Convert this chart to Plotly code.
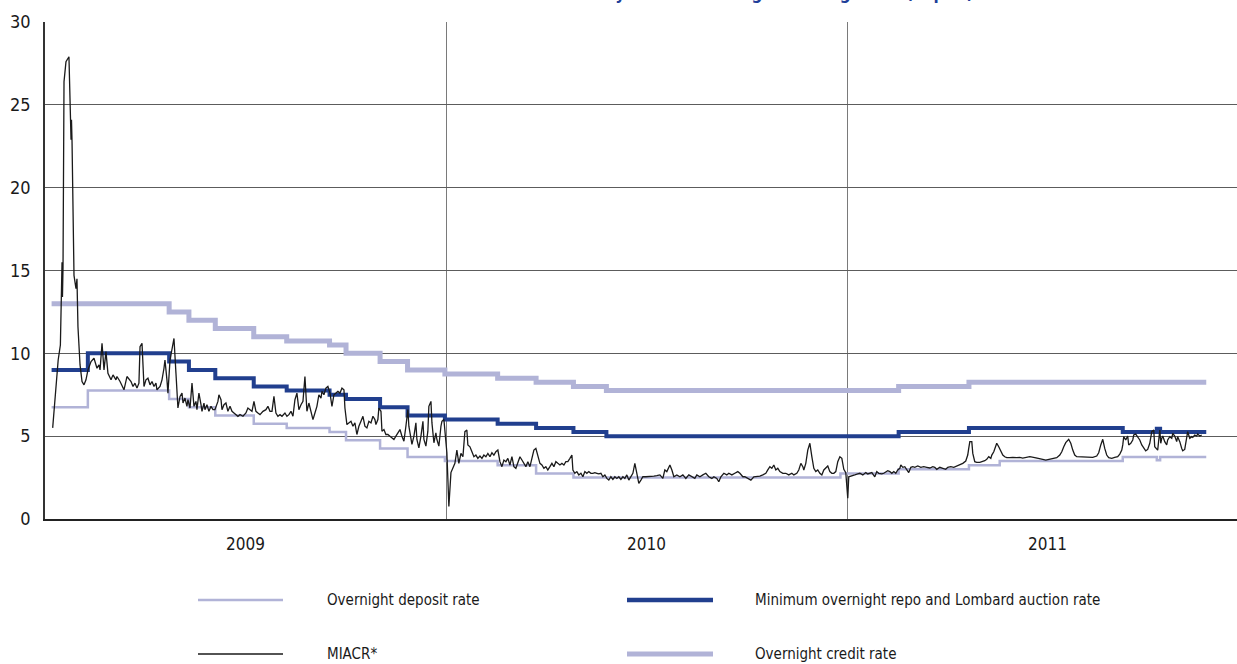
import pandas as pd
import plotly.graph_objects as go

# ---------------- data ----------------
credit_dates = ["2009-01-07", "2009-04-24", "2009-05-12", "2009-06-05", "2009-07-10", "2009-08-09",
                "2009-09-17", "2009-10-02", "2009-11-02", "2009-11-27", "2009-12-31", "2010-02-17",
                "2010-03-24", "2010-04-27", "2010-05-27", "2011-02-17", "2011-04-22", "2011-11-24"]
credit_vals = [13, 12.5, 12, 11.5, 11, 10.75, 10.5, 10, 9.5, 9, 8.75, 8.5, 8.25, 8, 7.75, 8, 8.25, 8.25]

repo_dates = ["2009-01-07", "2009-02-09", "2009-04-24", "2009-05-12", "2009-06-05", "2009-07-10",
              "2009-08-09", "2009-09-17", "2009-10-02", "2009-11-02", "2009-11-27", "2009-12-31",
              "2010-02-17", "2010-03-24", "2010-04-27", "2010-05-27", "2011-02-17", "2011-04-22",
              "2011-09-09", "2011-10-10", "2011-10-13", "2011-11-24"]
repo_vals = [9, 10, 9.5, 9, 8.5, 8, 7.75, 7.5, 7.25, 6.75, 6.25, 6.0, 5.75, 5.5, 5.25, 5.0,
             5.25, 5.5, 5.25, 5.45, 5.25, 5.25]

deposit_dates = ["2009-01-07", "2009-02-09", "2009-04-24", "2009-05-12", "2009-06-05", "2009-07-10",
                 "2009-08-09", "2009-09-17", "2009-10-02", "2009-11-02", "2009-11-27", "2009-12-31",
                 "2010-02-17", "2010-03-24", "2010-04-27", "2010-12-26", "2011-02-17", "2011-04-22",
                 "2011-05-20", "2011-09-09", "2011-10-10", "2011-10-13", "2011-11-24"]
deposit_vals = [6.75, 7.75, 7.25, 6.75, 6.25, 5.75, 5.5, 5.25, 4.75, 4.25, 3.75, 3.5, 3.25, 2.75,
                2.5, 2.75, 3.0, 3.25, 3.5, 3.75, 3.55, 3.75, 3.75]

# MIACR: days since 2009-01-01 and rate, % p.a.
miacr_day = [
    7, 10, 12, 14, 14.6, 15.5, 15.9, 16.4, 17.3, 19.1,
    21.8, 23.7, 24.1, 24.6, 26.4, 28.2, 29.1, 30.0, 31.9, 33.7,
    35.5, 37.3, 39.1, 41.9, 44.6, 47.3, 49.1, 50.1, 51.9, 53.7,
    55.5, 57.3, 60.1, 61.9, 64.6, 65.5, 68.3, 71.9, 74.6, 78.3,
    80.1, 81.9, 83.7, 85.5, 86.5, 88.3, 90.1, 91.9, 93.7, 95.6,
    97.4, 99.2, 101.0, 101.9, 104.7, 106.5, 108.3, 109.2, 111.0, 111.9,
    113.8, 115.6, 117.4, 119.2, 121.0, 122.9, 124.7, 125.6, 127.4, 129.2,
    130.1, 132.0, 133.8, 135.6, 137.4, 138.3, 140.1, 142.0, 142.9, 144.7,
    145.6, 147.4, 149.2, 151.1, 152.9, 154.7, 156.5, 157.4, 158.3, 160.2,
    161.1, 162.9, 164.7, 166.5, 168.4, 170.2, 172.0, 173.8, 175.6, 177.5,
    180.2, 182.9, 184.7, 186.6, 188.4, 190.2, 192.0, 193.8, 195.7, 198.4,
    201.1, 202.9, 204.8, 206.6, 208.4, 210.2, 212.0, 213.9, 215.7, 218.4,
    220.2, 222.0, 223.9, 225.7, 227.5, 229.3, 231.1, 233.0, 234.8, 236.6,
    238.4, 240.2, 242.1, 243.9, 245.7, 247.5, 249.3, 251.2, 252.1, 253.9,
    255.7, 257.5, 259.4, 261.2, 263.0, 264.8, 266.6, 268.5, 270.3, 272.1,
    273.0, 274.8, 276.6, 278.5, 280.3, 282.1, 283.9, 285.7, 287.6, 289.4,
    291.2, 293.0, 294.8, 296.7, 298.5, 300.3, 301.2, 303.0, 303.9, 305.8,
    306.7, 308.5, 310.3, 312.1, 314.0, 315.8, 317.6, 319.4, 321.2, 323.1,
    324.9, 326.7, 328.5, 330.3, 331.2, 333.1, 334.0, 335.8, 337.6, 338.5,
    340.3, 342.2, 344.0, 344.9, 346.7, 348.5, 349.4, 351.3, 352.2, 354.0,
    355.8, 356.7, 358.5, 360.4, 361.3, 363.1, 364.0, 365.8, 366.7, 367.6,
    369.5, 370.4, 373.1, 374.9, 376.7, 378.6, 380.4, 382.2, 384.0, 384.9,
    386.8, 388.6, 390.4, 392.2, 394.0, 395.9, 397.7, 399.5, 401.3, 403.1,
    405.0, 406.8, 408.6, 410.4, 412.2, 414.1, 415.9, 417.7, 419.5, 421.3,
    423.2, 425.0, 426.8, 428.6, 430.4, 432.3, 434.1, 435.9, 437.7, 439.5,
    441.4, 443.2, 445.0, 446.8, 448.6, 450.5, 452.3, 454.1, 455.9, 457.7,
    459.6, 461.4, 463.2, 465.0, 466.8, 468.7, 470.5, 472.3, 474.1, 475.9,
    477.8, 479.6, 480.5, 482.3, 484.1, 485.9, 487.8, 489.6, 491.4, 493.2,
    495.0, 496.9, 498.7, 500.5, 502.3, 504.1, 506.0, 507.8, 509.6, 511.4,
    513.2, 515.1, 516.9, 518.7, 520.5, 522.3, 524.2, 526.0, 527.8, 529.6,
    531.4, 533.3, 535.1, 536.9, 538.7, 540.5, 542.4, 544.2, 546.9, 550.6,
    554.2, 556.9, 559.7, 562.4, 564.2, 566.0, 568.8, 570.6, 572.4, 575.1,
    577.9, 580.6, 583.3, 586.0, 588.8, 591.5, 593.3, 596.1, 598.8, 601.5,
    604.2, 607.0, 608.8, 611.5, 613.3, 615.2, 617.9, 620.6, 622.4, 625.2,
    627.9, 630.6, 632.5, 635.2, 637.0, 639.7, 642.5, 645.2, 647.9, 650.7,
    653.4, 656.1, 657.9, 659.8, 661.6, 663.4, 665.2, 667.0, 668.9, 671.6,
    674.3, 677.0, 679.8, 681.6, 684.3, 686.1, 688.0, 689.8, 690.7, 692.5,
    694.3, 696.2, 698.0, 699.8, 701.6, 703.4, 705.3, 707.1, 708.9, 710.7,
    712.5, 714.4, 716.2, 718.0, 719.8, 721.6, 723.5, 725.3, 727.1, 728.9,
    730.7, 731.6, 734.4, 737.1, 739.8, 741.7, 744.4, 747.1, 748.9, 750.8,
    752.6, 755.3, 757.1, 758.9, 761.7, 763.5, 765.3, 767.1, 769.0, 770.8,
    772.6, 774.4, 776.2, 778.1, 779.0, 780.8, 782.6, 784.4, 786.2, 788.1,
    789.9, 791.7, 794.4, 797.2, 799.9, 802.6, 805.4, 808.1, 809.9, 811.7,
    814.5, 817.2, 819.9, 821.7, 824.5, 827.2, 829.9, 832.7, 835.4, 838.1,
    839.9, 840.8, 841.8, 843.6, 844.5, 846.3, 848.1, 850.9, 853.6, 855.4,
    857.2, 859.0, 860.9, 861.8, 863.6, 865.4, 866.3, 868.1, 870.0, 871.8,
    873.6, 875.4, 878.2, 880.9, 884.5, 887.3, 890.0, 893.6, 896.4, 900.9,
    905.5, 908.2, 910.9, 914.6, 917.3, 920.9, 923.7, 925.5, 927.3, 929.1,
    931.8, 933.7, 935.5, 937.3, 939.1, 941.9, 944.6, 948.2, 951.0, 953.7,
    957.3, 959.1, 961.0, 962.8, 964.6, 966.4, 968.2, 971.0, 973.7, 976.4,
    978.3, 980.1, 981.0, 981.9, 983.7, 985.5, 986.4, 988.3, 990.1, 991.0,
    992.8, 994.6, 996.5, 998.3, 1000.1, 1001.9, 1003.7, 1005.6, 1007.4, 1009.2,
    1010.1, 1012.8, 1014.7, 1015.6, 1016.5, 1017.4, 1019.2, 1021.0, 1021.9, 1023.8,
    1025.6, 1026.5, 1028.3, 1030.1, 1031.0, 1032.9, 1034.7, 1035.6, 1037.4, 1039.2,
    1040.1, 1042.0, 1043.8, 1044.7, 1046.5, 1048.3, 1049.2, 1051.1, 1052.9,
]
miacr_val = [
    5.5, 8.3, 9.6, 10.5, 13.7, 15.5, 13.4, 15.2, 26.4, 27.6,
    27.9, 22.9, 24.1, 22.8, 14.7, 13.9, 14.5, 11.6, 9.3, 8.3,
    8.1, 8.4, 9.0, 9.5, 9.7, 9.1, 9.3, 9.0, 10.6, 9.0,
    10.1, 8.8, 8.4, 8.7, 8.4, 8.6, 8.3, 7.8, 8.6, 8.3,
    8.0, 8.2, 7.9, 8.2, 10.4, 10.6, 8.0, 8.4, 8.5, 8.1,
    8.3, 8.0, 8.2, 7.8, 8.0, 8.4, 9.1, 9.6, 8.4, 7.6,
    9.6, 10.4, 10.9, 8.8, 6.7, 7.4, 7.6, 7.0, 7.3, 6.8,
    7.2, 6.7, 8.2, 6.8, 7.1, 6.6, 7.6, 6.9, 6.5, 7.0,
    6.6, 6.9, 6.5, 6.8, 6.6, 6.6, 6.9, 7.1, 7.5, 7.2,
    6.6, 6.9, 7.0, 6.5, 6.8, 6.5, 6.4, 6.3, 6.2, 6.3,
    6.2, 6.4, 6.7, 6.6, 6.5, 7.1, 6.5, 6.4, 6.3, 6.5,
    6.6, 6.8, 6.5, 6.5, 7.4, 6.4, 6.2, 6.3, 6.2, 6.4,
    6.2, 6.3, 6.5, 6.2, 7.2, 7.6, 6.6, 6.9, 7.1, 8.6,
    6.5, 7.0, 6.4, 6.0, 6.4, 6.8, 7.5, 7.3, 7.7, 7.5,
    7.9, 8.0, 7.6, 6.8, 7.5, 7.6, 7.7, 7.6, 7.9, 7.8,
    6.7, 5.7, 5.8, 5.9, 5.6, 5.8, 5.1, 5.6, 5.9, 6.2,
    5.6, 5.5, 5.9, 5.8, 6.2, 6.0, 5.7, 6.0, 6.7, 6.5,
    5.3, 5.4, 5.1, 5.1, 5.0, 4.9, 4.8, 5.0, 5.2, 5.4,
    5.0, 4.7, 5.6, 6.6, 5.6, 5.0, 4.5, 5.0, 5.8, 4.8,
    4.3, 5.0, 5.9, 4.8, 4.4, 5.3, 6.8, 7.1, 5.8, 4.6,
    5.2, 4.8, 4.4, 5.6, 5.9, 6.0, 5.2, 4.0, 2.4, 0.75,
    2.8, 2.96, 3.36, 4.16, 3.36, 3.96, 3.76, 5.27, 5.37, 4.47,
    4.36, 4.06, 3.76, 3.86, 3.66, 3.80, 3.66, 3.86, 3.76, 3.96,
    3.76, 4.0, 3.86, 4.06, 4.16, 3.46, 3.16, 3.56, 3.46, 3.66,
    3.26, 3.76, 3.16, 3.06, 3.46, 3.76, 3.56, 3.36, 3.16, 3.46,
    3.16, 3.66, 4.16, 4.26, 3.76, 3.36, 3.26, 3.06, 3.16, 2.96,
    3.16, 3.36, 3.16, 3.46, 3.36, 3.26, 3.36, 3.26, 3.46, 3.46,
    3.66, 3.86, 2.96, 2.76, 2.86, 2.66, 2.76, 2.55, 2.86, 2.76,
    2.86, 2.76, 2.76, 2.80, 2.76, 2.72, 2.76, 2.55, 2.66, 2.45,
    2.35, 2.55, 2.39, 2.55, 2.45, 2.55, 2.39, 2.55, 2.45, 2.66,
    2.35, 2.55, 2.76, 3.36, 2.76, 2.15, 2.35, 2.55, 2.55, 2.55,
    2.59, 2.62, 2.66, 2.45, 2.96, 2.86, 3.26, 2.96, 2.55, 2.66,
    2.55, 2.66, 2.45, 2.66, 2.55, 2.45, 2.66, 2.55, 2.66, 2.76,
    2.55, 2.45, 2.55, 2.45, 2.25, 2.55, 2.76, 2.66, 2.76, 2.66,
    2.76, 2.86, 2.76, 2.55, 2.55, 2.45, 2.35, 2.55, 2.55, 2.59,
    2.66, 2.76, 2.96, 3.16, 3.06, 3.26, 2.96, 3.06, 2.86, 2.76,
    2.76, 2.66, 2.76, 2.66, 2.76, 2.96, 3.36, 3.16, 2.96, 3.36,
    4.16, 4.57, 3.76, 3.06, 2.86, 2.96, 2.76, 2.66, 2.96, 3.06,
    3.2, 2.86, 2.76, 2.76, 2.86, 3.46, 3.76, 3.66, 3.0, 2.8,
    1.25, 2.55, 2.59, 2.66, 2.72, 2.76, 2.66, 2.8, 2.72, 2.76,
    2.8, 2.55, 2.86, 2.76, 2.72, 2.76, 2.86, 2.92, 2.86, 2.76,
    2.86, 2.76, 2.96, 3.06, 3.26, 3.12, 3.16, 3.0, 2.8, 3.12,
    3.16, 3.12, 3.2, 3.12, 3.16, 3.12, 3.08, 3.16, 3.12, 3.0,
    3.12, 3.06, 3.0, 3.12, 3.16, 3.12, 3.2, 3.32, 3.36, 3.5,
    3.86, 4.26, 4.67, 4.67, 3.96, 3.46, 3.42, 3.42, 3.46, 3.52,
    3.6, 3.76, 3.66, 3.86, 4.06, 4.4, 4.57, 4.36, 4.06, 3.86,
    3.76, 3.70, 3.70, 3.72, 3.70, 3.72, 3.68, 3.72, 3.76, 3.70,
    3.66, 3.6, 3.56, 3.6, 3.66, 3.70, 3.86, 4.06, 4.36, 4.61,
    4.81, 4.57, 4.16, 3.86, 3.76, 3.76, 3.72, 3.72, 3.76, 3.72,
    3.80, 4.0, 4.47, 4.81, 4.26, 3.86, 3.70, 3.66, 3.72, 3.76,
    3.92, 4.16, 4.47, 4.97, 4.77, 5.01, 4.47, 4.57, 4.77, 5.07,
    5.13, 4.97, 4.77, 4.47, 4.26, 4.12, 4.2, 4.57, 5.27, 5.37,
    4.36, 4.16, 5.37, 4.57, 4.87, 5.01, 4.67, 4.47, 4.77, 4.97,
    4.87, 5.17, 5.01, 4.67, 4.97, 4.67, 4.26, 4.12, 4.2, 4.77,
    5.27, 4.87, 4.97, 4.93, 5.07, 5.01, 5.13, 5.01, 5.07,
]

year_labels = ["2009", "2010", "2011"]
y_ticks = [0, 5, 10, 15, 20, 25, 30]

legend_names = ["Overnight deposit rate", "Minimum overnight repo and Lombard auction rate",
                "MIACR*", "Overnight credit rate"]
title_text = "Bank of Russia interest rates and money market overnight lending rates (% p.a.)"

# ---------------- styling ----------------
W, H = 1237, 664
ML, MR, MT, MB = 45, 0, 22, 145
PW, PH = W - ML - MR, H - MT - MB
FONT = "DejaVu Sans Condensed, Liberation Sans Narrow, Arial Narrow, sans-serif"
LAV = "#b1b3d7"
BLUE = "#213f8e"
BLACK = "#1a1a1a"


def px_x(p):
    return (p - ML) / PW


def px_y(p):
    return (H - MB - p) / PH


base = pd.Timestamp("2009-01-01")
miacr_dates = base + pd.to_timedelta(miacr_day, unit="D")
x_end = base + pd.Timedelta(days=PW / 401 * 365)

fig = go.Figure()
fig.add_trace(go.Scatter(x=credit_dates, y=credit_vals, mode="lines", line_shape="hv",
                         line=dict(color=LAV, width=5), name=legend_names[3], showlegend=False))
fig.add_trace(go.Scatter(x=deposit_dates, y=deposit_vals, mode="lines", line_shape="hv",
                         line=dict(color=LAV, width=2.5), name=legend_names[0], showlegend=False))
fig.add_trace(go.Scatter(x=repo_dates, y=repo_vals, mode="lines", line_shape="hv",
                         line=dict(color=BLUE, width=4), name=legend_names[1], showlegend=False))
fig.add_trace(go.Scatter(x=miacr_dates, y=miacr_val, mode="lines",
                         line=dict(color=BLACK, width=1.3), name=legend_names[2], showlegend=False))

# manual legend
legend_items = [
    (198, 283, 600, LAV, 2.5, 325, legend_names[0]),
    (627, 713, 600, BLUE, 4.5, 753, legend_names[1]),
    (198, 283, 654, BLACK, 1.5, 325, legend_names[2]),
    (627, 713, 654, LAV, 5, 753, legend_names[3]),
]
for x0, x1, yy, col, wd, tx, name in legend_items:
    fig.add_shape(type="line", xref="paper", yref="paper", x0=px_x(x0), x1=px_x(x1),
                  y0=px_y(yy), y1=px_y(yy), line=dict(color=col, width=wd))
    fig.add_annotation(xref="paper", yref="paper", x=px_x(tx), y=px_y(yy), text=name,
                       showarrow=False, xanchor="left", yanchor="middle",
                       font=dict(family=FONT, size=15, color="#1a1a1a"))

fig.add_annotation(xref="paper", yref="paper", x=px_x(975), y=px_y(5), text="<b>" + title_text + "</b>",
                   showarrow=False, xanchor="right", yanchor="bottom",
                   font=dict(family=FONT, size=17, color="#1f3f9a"))

fig.update_layout(
    width=W, height=H,
    margin=dict(l=ML, r=MR, t=MT, b=MB, autoexpand=False),
    paper_bgcolor="white", plot_bgcolor="white",
    showlegend=False,
    font=dict(family=FONT, size=17, color="#1a1a1a"),
)
fig.update_xaxes(type="date", range=[base, x_end], dtick="M12", tick0="2009-01-01",
                 ticklabelmode="period", tickformat="%Y", showgrid=True, gridcolor="#7a7a7a",
                 gridwidth=1, showline=True, linecolor="#222222", linewidth=1.5, ticks="",
                 ticklabelstandoff=9, tickfont=dict(family=FONT, size=17, color="#1a1a1a"),
                 zeroline=False, automargin=False)
fig.update_yaxes(range=[0, 30], tickvals=y_ticks, showgrid=True, gridcolor="#5c5c5c", gridwidth=1,
                 showline=True, linecolor="#333333", linewidth=1.5, ticks="", zeroline=False,
                 ticklabelstandoff=9, tickfont=dict(family=FONT, size=18, color="#1a1a1a"),
                 automargin=False)

fig.write_html("out.html", config={"displayModeBar": False},
               post_script="document.body.style.margin='0px';document.body.style.overflow='hidden';")
